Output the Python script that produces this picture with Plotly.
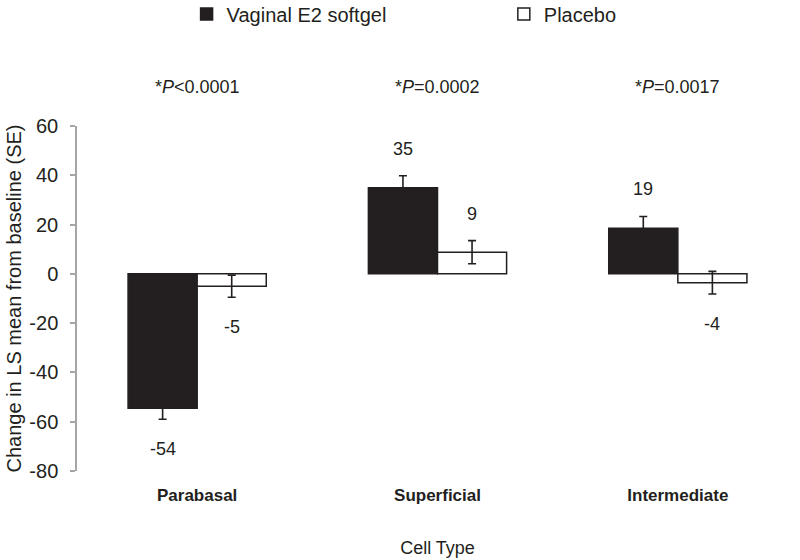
import plotly.graph_objects as go

categories = ["Parabasal", "Superficial", "Intermediate"]
e2_values = [-54.5, 34.9, 18.5]
e2_se = [4.5, 4.9, 4.8]
e2_labels = ["-54", "35", "19"]
placebo_values = [-5.0, 8.8, -3.6]
placebo_se = [4.5, 4.7, 4.6]
placebo_labels = ["-5", "9", "-4"]
p_values = ["*<i>P</i><0.0001", "*<i>P</i>=0.0002", "*<i>P</i>=0.0017"]
y_ticks = [-80, -60, -40, -20, 0, 20, 40, 60]

FONT = "Liberation Sans, Arial, Helvetica, sans-serif"
INK = "#231f20"
GRAY = "#a6a6a6"
y_range = [-80, 60]
x_pos = list(range(len(categories)))
bargap = 0.425
half_off = (1 - bargap) / 4

fig = go.Figure()
fig.add_trace(go.Bar(
    name="Vaginal E2 softgel", x=x_pos, y=e2_values, legend="legend",
    marker=dict(color=INK, line=dict(color=INK, width=1.5)),
    error_y=dict(type="data", array=e2_se, color=INK, thickness=1.6, width=4),
))
fig.add_trace(go.Bar(
    name="Placebo", x=x_pos, y=placebo_values, legend="legend2",
    marker=dict(color="white", line=dict(color=INK, width=1.5)),
    error_y=dict(type="data", array=placebo_se, color=INK, thickness=1.6, width=4),
))

annotations = []
for vals, ses, labs, sign in [(e2_values, e2_se, e2_labels, -1), (placebo_values, placebo_se, placebo_labels, 1)]:
    for i, (v, s, t) in enumerate(zip(vals, ses, labs)):
        up = v >= 0
        annotations.append(dict(
            x=x_pos[i] + sign * half_off, y=v + s if up else v - s,
            xref="x", yref="y", text=t, showarrow=False,
            yshift=27 if up else -30, font=dict(size=18, color=INK, family=FONT),
        ))
for i, p in enumerate(p_values):
    annotations.append(dict(
        x=x_pos[i], y=1.148, xref="x", yref="paper", text=p, showarrow=False,
        font=dict(size=18, color=INK, family=FONT),
    ))

legend_common = dict(orientation="h", xanchor="left", y=1.325, yanchor="middle",
                     font=dict(size=20, color=INK, family=FONT),
                     bgcolor="rgba(0,0,0,0)", itemclick=False)

fig.update_layout(
    width=800, height=560,
    margin=dict(l=77, r=2, t=126, b=89, autoexpand=False),
    paper_bgcolor="white", plot_bgcolor="white",
    font=dict(family=FONT, color=INK, size=20),
    barmode="group", bargap=bargap, bargroupgap=0,
    showlegend=True,
    legend=dict(x=0.152, **legend_common),
    legend2=dict(x=0.592, **legend_common),
    xaxis=dict(range=[-0.5, 2.5], tickvals=x_pos,
               ticktext=["<b>%s</b>" % c for c in categories],
               tickfont=dict(size=17, color=INK, family=FONT),
               showline=False, showgrid=False, zeroline=False, ticks="",
               ticklabelstandoff=12, automargin=False,
               title=dict(text="Cell Type", font=dict(size=18, color=INK, family=FONT), standoff=37)),
    xaxis2=dict(range=[-0.5, 2.5], overlaying="x", anchor="free",
                position=(0 - y_range[0]) / (y_range[1] - y_range[0]),
                tickvals=[-0.5, 0.5, 1.5, 2.5], showticklabels=False,
                ticks="outside", ticklen=5, tickcolor=GRAY, tickwidth=1.5,
                showline=True, linecolor=GRAY, linewidth=1.5,
                showgrid=False, zeroline=False),
    yaxis=dict(range=y_range, tickvals=y_ticks, ticktext=[str(v) for v in y_ticks],
               showgrid=False, zeroline=False, automargin=False,
               showline=True, linecolor=GRAY, linewidth=1.5,
               ticks="outside", ticklen=5, tickcolor=GRAY, tickwidth=1.5,
               ticklabelstandoff=8,
               tickfont=dict(size=20, color=INK, family=FONT),
               title=dict(text="Change in LS mean from baseline (SE)",
                          font=dict(size=20, color=INK, family=FONT), standoff=2)),
    annotations=annotations,
)

fig.write_html("out.html",
               config={"displayModeBar": False},
               post_script="document.body.style.margin='0';document.body.style.padding='0';")
